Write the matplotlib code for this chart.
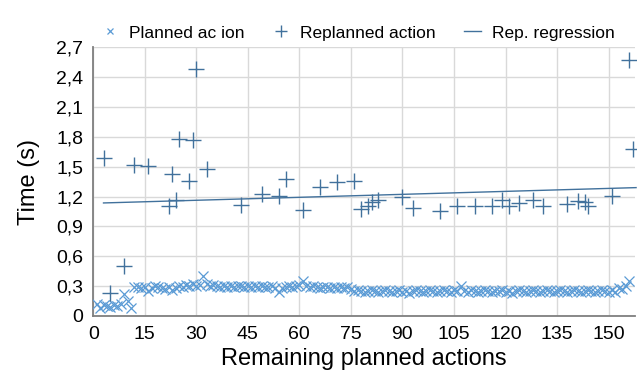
import numpy as np
import matplotlib.pyplot as plt

plt.rcParams['font.family'] = ['Liberation Sans', 'DejaVu Sans']

# planned action time, one value per remaining planned action (1..156)
planned_y = [
    0.12, 0.08, 0.11, 0.10, 0.09, 0.11, 0.10, 0.12, 0.22, 0.15, 0.08,
    0.29, 0.29, 0.28, 0.29, 0.25, 0.28, 0.30, 0.29, 0.28, 0.27,
    0.29, 0.26, 0.28, 0.30, 0.29, 0.31, 0.30, 0.32, 0.30, 0.31,
    0.40,
    0.32, 0.30, 0.31, 0.30, 0.29, 0.30, 0.29, 0.30, 0.29, 0.30,
    0.30, 0.29, 0.30, 0.29, 0.30, 0.29, 0.30, 0.29, 0.29, 0.30,
    0.28, 0.24, 0.28, 0.29, 0.30, 0.29, 0.30, 0.31,
    0.35,
    0.30, 0.29, 0.30, 0.29, 0.28, 0.29, 0.29, 0.28, 0.29, 0.28,
    0.29, 0.28, 0.29, 0.27,
    0.25, 0.26, 0.25, 0.24, 0.25, 0.26, 0.25, 0.24, 0.25, 0.26,
    0.25, 0.24, 0.25, 0.26, 0.24, 0.25, 0.23, 0.25, 0.26, 0.25,
    0.24, 0.25, 0.26, 0.25, 0.24, 0.25, 0.26, 0.25, 0.24, 0.26, 0.25,
    0.30,
    0.25, 0.24, 0.26, 0.25, 0.24, 0.25, 0.26, 0.25, 0.24, 0.25,
    0.25, 0.26, 0.24, 0.25, 0.23, 0.25, 0.26, 0.25, 0.24, 0.25,
    0.26, 0.25, 0.24, 0.25, 0.26, 0.25, 0.24, 0.25, 0.26, 0.25,
    0.24, 0.25, 0.26, 0.25, 0.24, 0.25, 0.26, 0.25, 0.24, 0.25,
    0.26, 0.25, 0.24, 0.26,
    0.24, 0.28, 0.27, 0.30, 0.35,
]
planned_x = np.arange(1, len(planned_y) + 1)

# replanned actions
replan_x = [3, 5, 9, 12, 16, 22, 23, 24, 25, 28, 29, 30, 33, 43, 49, 54, 56,
            61, 66, 71, 76, 78, 80, 81, 83, 90, 93, 101, 106, 111, 116, 119,
            121, 124, 128, 131, 138, 141, 143, 144, 151, 156, 157]
replan_y = [1.59, 0.23, 0.50, 1.52, 1.51, 1.11, 1.43, 1.17, 1.78, 1.36, 1.77,
            2.48, 1.48, 1.12, 1.23, 1.21, 1.38, 1.07, 1.30, 1.35, 1.36, 1.08,
            1.11, 1.15, 1.17, 1.20, 1.09, 1.06, 1.11, 1.11, 1.11, 1.17, 1.11,
            1.14, 1.17, 1.11, 1.13, 1.16, 1.15, 1.11, 1.21, 2.57, 1.68]

# regression line of the replanned actions
reg_x = [3, 158]
reg_y = [1.136, 1.29]

x_ticks = [0, 15, 30, 45, 60, 75, 90, 105, 120, 135, 150]
y_ticks = [0, 0.3, 0.6, 0.9, 1.2, 1.5, 1.8, 2.1, 2.4, 2.7]
y_labels = ['0', '0,3', '0,6', '0,9', '1,2', '1,5', '1,8', '2,1', '2,4', '2,7']

c_light = '#5B9BD5'
c_dark = '#41719C'

fig = plt.figure(figsize=(6.37, 3.89), dpi=100)
ax = fig.add_axes([93.2 / 637, 1 - 316 / 389, (634.7 - 93.2) / 637, (316 - 47.3) / 389])

ax.plot(planned_x, planned_y, linestyle='none', marker='x', color=c_light,
        markersize=6.5, markeredgewidth=0.9, label='Planned ac ion', zorder=3)
ax.plot(replan_x, replan_y, linestyle='none', marker='+', color=c_dark,
        markersize=11, markeredgewidth=1.0, label='Replanned action',
        zorder=4, clip_on=False)
ax.plot(reg_x, reg_y, color=c_dark, linewidth=1.0, label='Rep. regression',
        zorder=2, clip_on=False)

ax.set_xlim(0, 157.6)
ax.set_ylim(0, 2.7)
ax.set_xticks(x_ticks)
ax.set_yticks(y_ticks)
ax.set_yticklabels(y_labels)
ax.tick_params(length=0, labelsize=14, pad=7)
ax.grid(True, color='#D9D9D9', linewidth=1.0)
ax.set_axisbelow(True)
for s in ['top', 'right']:
    ax.spines[s].set_visible(False)
for s in ['left', 'bottom']:
    ax.spines[s].set_color('#7F7F7F')
    ax.spines[s].set_linewidth(1.3)

ax.set_xlabel('Remaining planned actions', fontsize=17, labelpad=4)
ax.set_ylabel('Time (s)', fontsize=17, labelpad=12)

leg = fig.legend(loc='center', bbox_to_anchor=(358 / 637, 1 - 33 / 389), ncol=3,
                 frameon=False, fontsize=12.5, handlelength=1.0, handletextpad=0.6,
                 columnspacing=1.6)
leg.legend_handles[0].set_markersize(5)
leg.legend_handles[1].set_markersize(8)

fig.savefig('out.png', dpi=100)
